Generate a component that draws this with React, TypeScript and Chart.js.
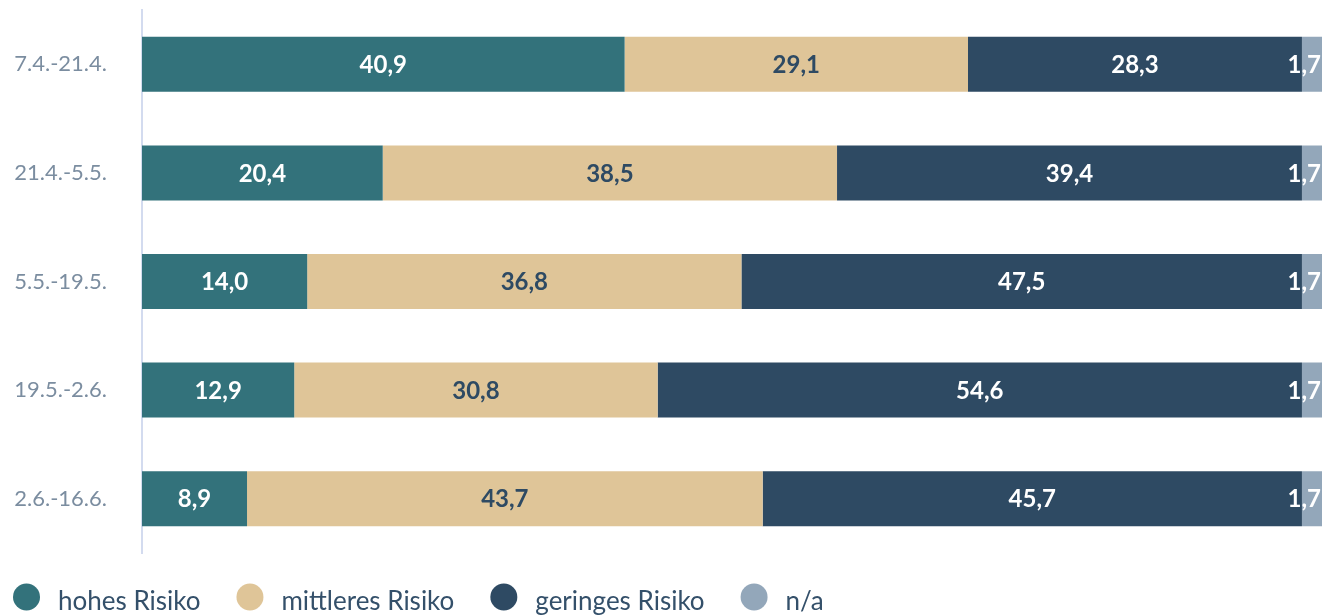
import React, { useEffect, useRef } from "react";
import { Chart, registerables } from "chart.js";

Chart.register(...registerables);

const categories = ["7.4.-21.4.", "21.4.-5.5.", "5.5.-19.5.", "19.5.-2.6.", "2.6.-16.6."];
const seriesNames = ["hohes Risiko", "mittleres Risiko", "geringes Risiko", "n/a"];
const hohes = [40.9, 20.4, 14.0, 12.9, 8.9];
const mittleres = [29.1, 38.5, 36.8, 30.8, 43.7];
const geringes = [28.3, 39.4, 47.5, 54.6, 45.7];
const na = [1.7, 1.7, 1.7, 1.7, 1.7];
const seriesColors = ["#33727b", "#dfc598", "#2e4a63", "#93a7ba"];
const labelColors = ["#ffffff", "#2e4a63", "#ffffff", "#ffffff"];

const FONT = "Lato, 'Open Sans', sans-serif";

const valueLabels = {
  id: "valueLabels",
  afterDatasetsDraw(chart: any) {
    const ctx = chart.ctx;
    ctx.save();
    ctx.font = `bold 24px ${FONT}`;
    ctx.textBaseline = "middle";
    chart.data.datasets.forEach((ds: any, di: number) => {
      const meta = chart.getDatasetMeta(di);
      meta.data.forEach((el: any, i: number) => {
        const v = ds.data[i];
        const text = v.toFixed(1).replace(".", ",");
        const left = Math.min(el.x, el.base);
        const right = Math.max(el.x, el.base);
        const w = ctx.measureText(text).width;
        ctx.fillStyle = labelColors[di];
        if (w + 6 > right - left) {
          ctx.textAlign = "right";
          ctx.fillText(text, right - 1, el.y + 1);
        } else {
          ctx.textAlign = "center";
          ctx.fillText(text, (left + right) / 2, el.y + 1);
        }
      });
    });
    ctx.restore();
  },
};

const customLegend = {
  id: "customLegend",
  afterDraw(chart: any) {
    const ctx = chart.ctx;
    ctx.save();
    ctx.font = `26px ${FONT}`;
    ctx.textBaseline = "alphabetic";
    ctx.textAlign = "left";
    let x = 13;
    const cy = 597;
    const d = 27;
    chart.data.datasets.forEach((ds: any) => {
      ctx.fillStyle = ds.backgroundColor;
      ctx.beginPath();
      ctx.arc(x + d / 2, cy, d / 2, 0, Math.PI * 2);
      ctx.fill();
      const tx = x + d + 18;
      ctx.fillStyle = "#34506a";
      ctx.fillText(ds.label, tx, 610);
      x = tx + ctx.measureText(ds.label).width + 36;
    });
    ctx.restore();
  },
};

export default function App() {
  const ref = useRef<HTMLCanvasElement>(null);
  useEffect(() => {
    if (!ref.current) return;
    const all = [hohes, mittleres, geringes, na];
    const chart = new Chart(ref.current, {
      type: "bar",
      data: {
        labels: categories,
        datasets: all.map((d, i) => ({
          label: seriesNames[i],
          data: d,
          backgroundColor: seriesColors[i],
          borderWidth: 0,
          barPercentage: 0.506,
          categoryPercentage: 1,
        })),
      },
      options: {
        indexAxis: "y",
        responsive: false,
        animation: false,
        layout: { padding: { top: 10, right: 11, bottom: 63, left: 0 } },
        plugins: { legend: { display: false }, tooltip: { enabled: false } },
        scales: {
          x: { stacked: true, display: false, min: 0, max: 100 },
          y: {
            stacked: true,
            afterFit(scale: any) {
              scale.width = 142;
              scale.paddingTop = 0;
              scale.paddingBottom = 0;
            },
            grid: { display: false, drawTicks: false },
            border: { display: true, color: "#d3dbef", width: 2 },
            ticks: {
              padding: 35,
              color: "#7b8da0",
              font: { family: FONT, size: 22 },
            },
          },
        },
      },
      plugins: [valueLabels, customLegend],
    });
    return () => chart.destroy();
  }, []);
  return (
    <div style={{ position: "fixed", left: 0, top: 0, width: 1333, height: 616, overflow: "hidden", background: "#fff" }}>
      <canvas ref={ref} width={1333} height={616} style={{ display: "block" }} />
    </div>
  );
}
